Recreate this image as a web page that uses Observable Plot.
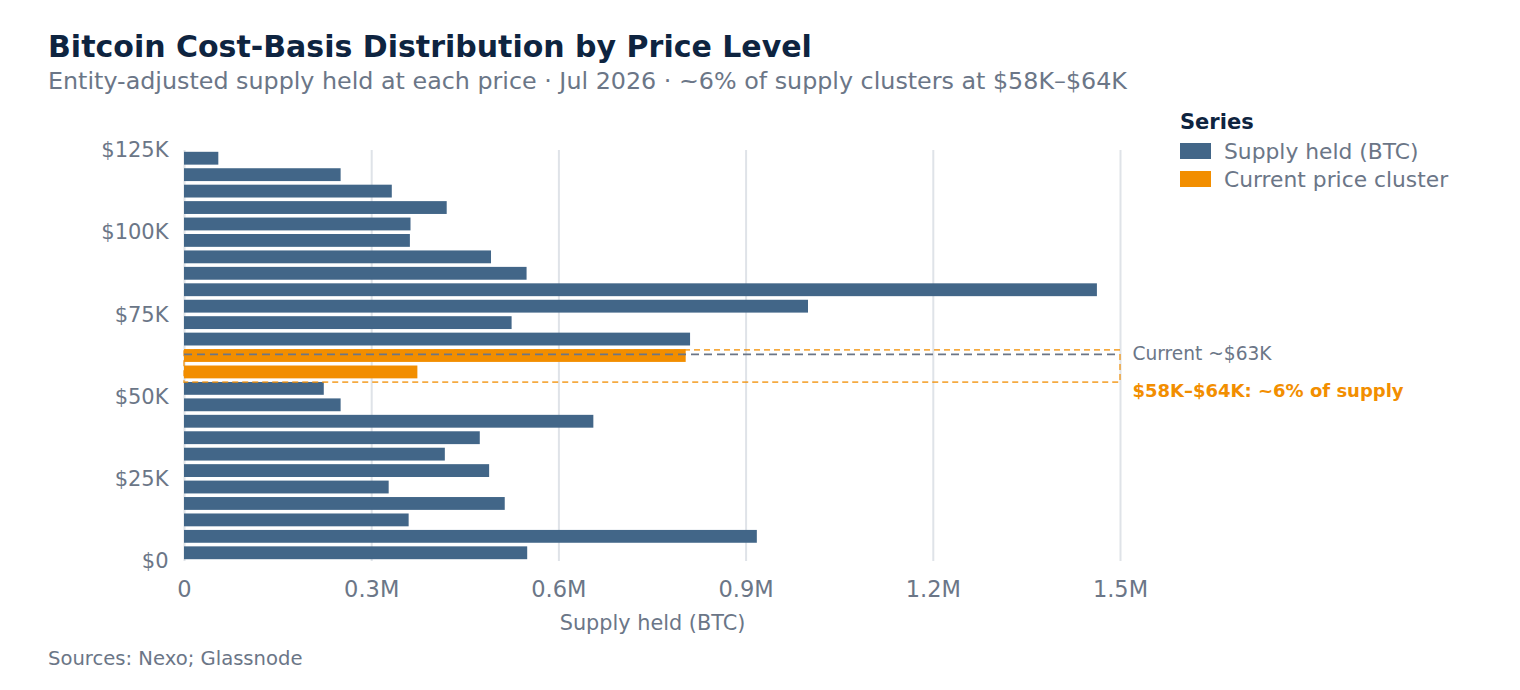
<!DOCTYPE html>
<html>
<head>
<meta charset="utf-8">
<script src="https://cdn.jsdelivr.net/npm/d3@7"></script>
<script src="https://cdn.jsdelivr.net/npm/@observablehq/plot@0.6"></script>
<style>
  html, body { margin: 0; padding: 0; background: #ffffff; }
  body { width: 1520px; height: 690px; position: relative; overflow: hidden; font-family: "DejaVu Sans", sans-serif; }
  #title { position: absolute; left: 48px; top: 29px; font-size: 30px; font-weight: 700; color: #0e2440; white-space: nowrap; }
  #subtitle { position: absolute; left: 48px; top: 67px; font-size: 23.8px; color: #6b7687; white-space: nowrap; }
  #chart { position: absolute; left: 0; top: 110px; }
  #legend { position: absolute; left: 1180px; top: 110px; }
  #legend .head { font-size: 21px; font-weight: 700; color: #0e2440; margin-bottom: 3px; }
  #legend .item { display: flex; align-items: center; font-size: 21.8px; color: #6b7687; height: 28px; }
  #legend .sw { width: 31px; height: 16px; margin-right: 13px; }
  #caption { position: absolute; left: 48px; top: 647px; font-size: 19.6px; color: #6b7687; }
</style>
</head>
<body>
<div id="title">Bitcoin Cost-Basis Distribution by Price Level</div>
<div id="subtitle">Entity-adjusted supply held at each price · Jul 2026 · ~6% of supply clusters at $58K–$64K</div>
<div id="chart"></div>
<div id="legend"></div>
<div id="caption">Sources: Nexo; Glassnode</div>
<script>
// Price bins (lower bound, USD), 5K wide
const binStart = [0, 5000, 10000, 15000, 20000, 25000, 30000, 35000, 40000, 45000, 50000, 55000, 60000,
                  65000, 70000, 75000, 80000, 85000, 90000, 95000, 100000, 105000, 110000, 115000, 120000];
// Supply held (BTC) in each bin
const supply = [550000, 918000, 360000, 514000, 328000, 489000, 418000, 474000, 656000, 251000, 224000, 374000, 804000,
                811000, 525000, 1000000, 1463000, 549000, 492000, 362000, 363000, 421000, 333000, 251000, 55000];
// Bins that form the current price cluster
const clusterBins = [55000, 60000];
const binWidth = 5000;
const seriesNames = ["Supply held (BTC)", "Current price cluster"];
const seriesColors = ["#426688", "#f28e00"];
const currentPrice = 63000;
const clusterRange = [54400, 64200];
const yTicks = [0, 25000, 50000, 75000, 100000, 125000];
const xTicks = [0, 300000, 600000, 900000, 1200000, 1500000];

const rows = binStart.map((b, i) => ({
  lo: b, hi: b + binWidth, value: supply[i],
  series: clusterBins.includes(b) ? seriesNames[1] : seriesNames[0]
}));

const grey = "#6b7687";
const fmtY = d => d === 0 ? "$0" : "$" + d / 1000 + "K";
const fmtX = d => d === 0 ? "0" : (d / 1e6) + "M";

const plot = Plot.plot({
  width: 1520,
  height: 530,
  marginTop: 40,
  marginLeft: 184,
  marginRight: 400,
  marginBottom: 79,
  style: { fontFamily: "'DejaVu Sans', sans-serif", color: grey, background: "transparent" },
  x: { domain: [0, 1500000], ticks: xTicks, tickFormat: fmtX, label: null },
  y: { domain: [0, 125000], ticks: yTicks, tickFormat: fmtY, label: null },
  color: { domain: seriesNames, range: seriesColors },
  marks: [
    Plot.gridX(xTicks, { stroke: "#dfe3e8", strokeOpacity: 1, strokeWidth: 2 }),
    Plot.rectX(rows, { x: "value", y1: "lo", y2: "hi", fill: "series", insetTop: 1.8, insetBottom: 1.8 }),
    Plot.rect([{ a: 0 }], { x1: 0, x2: 1500000, y1: clusterRange[0], y2: clusterRange[1],
      fill: "none", stroke: seriesColors[1], strokeOpacity: 0.75, strokeWidth: 1.6, strokeDasharray: "6,4" }),
    Plot.ruleY([currentPrice], { x1: 0, x2: 1500000, stroke: grey, strokeWidth: 1.6, strokeDasharray: "8,5" }),
    Plot.text([{ y: currentPrice }], { x: () => 1500000, y: "y", dx: 12, text: () => "Current ~$63K",
      textAnchor: "start", fill: grey, fontSize: 18.6 }),
    Plot.text([{ y: 51800 }], { x: () => 1500000, y: "y", dx: 12, text: () => "$58K–$64K: ~6% of supply",
      textAnchor: "start", fill: seriesColors[1], fontSize: 18, fontWeight: 700 }),
    Plot.axisY(yTicks, { tickSize: 0, tickPadding: 16, fontSize: 21, tickFormat: fmtY, fill: grey }),
    Plot.axisX(xTicks, { tickSize: 0, tickPadding: 20, fontSize: 22.5, tickFormat: fmtX, fill: grey,
      label: "Supply held (BTC)", labelAnchor: "center", labelArrow: "none", labelOffset: 68 })
  ]
});
document.getElementById("chart").appendChild(plot);
d3.select(plot).selectAll("[aria-label='x-axis label'] text, [aria-label='x-axis label']").attr("font-size", 20.8);

const legend = document.getElementById("legend");
legend.innerHTML = `<div class="head">Series</div>` + seriesNames.map((n, i) =>
  `<div class="item"><div class="sw" style="background:${seriesColors[i]}"></div>${n}</div>`).join("");
</script>
</body>
</html>
